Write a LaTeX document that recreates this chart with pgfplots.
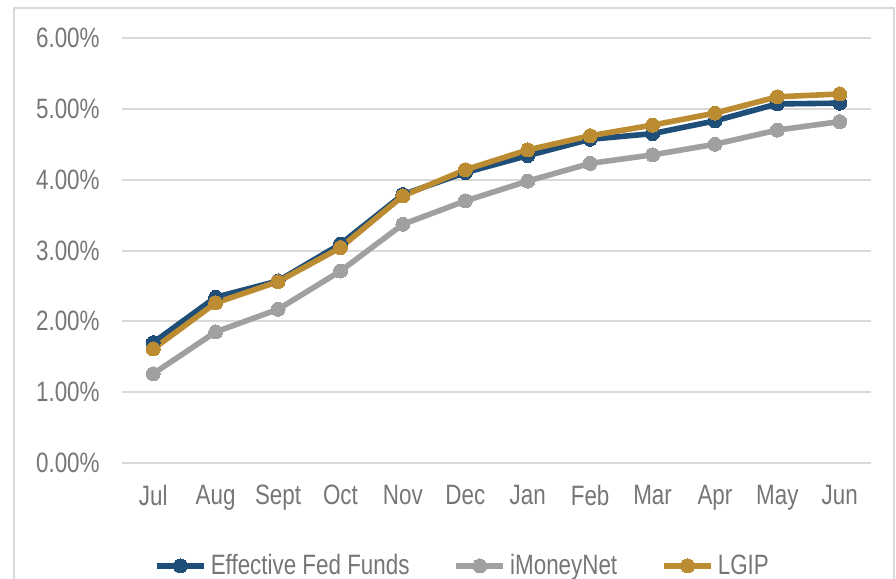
\documentclass[border=0pt]{standalone}
\usepackage{fontspec}
\setmainfont{Liberation Sans}[FakeStretch=0.80]
\usepackage{pgfplots}
\pgfplotsset{compat=1.18}
\usepackage{pgfplotstable}
\definecolor{effblue}{HTML}{1F4E79}
\definecolor{imgray}{HTML}{A0A0A3}
\definecolor{lgipgold}{HTML}{BC8C32}
\definecolor{gridgray}{HTML}{D9D9D9}
\definecolor{textgray}{HTML}{767676}
\pgfplotstableread{
x eff imn lgip
0 1.70 1.26 1.61
1 2.34 1.85 2.26
2 2.57 2.17 2.56
3 3.09 2.71 3.04
4 3.79 3.37 3.77
5 4.10 3.70 4.14
6 4.34 3.98 4.42
7 4.57 4.23 4.62
8 4.65 4.35 4.77
9 4.83 4.50 4.94
10 5.07 4.70 5.17
11 5.08 4.82 5.21
}\datatable
\begin{document}
\begin{tikzpicture}
\path[use as bounding box] (0,0) rectangle (448pt,-289.5pt);
\draw[gridgray, line width=0.8pt] (7pt,-300pt) -- (7pt,-4pt) -- (447pt,-4pt) -- (447pt,-300pt);
\begin{axis}[
  at={(61pt,-231.5pt)}, anchor=south west,
  scale only axis, width=374.5pt, height=212.5pt,
  xmin=-0.5, xmax=11.5, ymin=0, ymax=6,
  xtick={0,...,11},
  xticklabels={Jul,Aug,Sept,Oct,Nov,Dec,Jan,Feb,Mar,Apr,May,Jun},
  ytick={0,1,...,6},
  yticklabel={\pgfmathprintnumber[fixed,fixed zerofill,precision=2]{\tick}\%},
  /pgf/number format/assume math mode=true,
  axis line style={draw=none},
  major tick length=0pt,
  ymajorgrids,
  grid style={gridgray, line width=1pt},
  tick label style={font=\fontsize{14}{16.8}\selectfont, text=textgray},
  yticklabel style={anchor=east, inner sep=0pt, xshift=-11pt},
  xticklabel style={anchor=north, inner sep=0pt, yshift=-11pt},
  legend columns=3,
  legend style={at={(0.456,-0.242)}, anchor=center, draw=none, fill=none,
    font=\fontsize{14}{16.8}\selectfont, text=textgray,
    /tikz/every even column/.append style={column sep=20pt}},
  legend image code/.code={\draw[mark repeat=2,mark phase=2,#1] plot coordinates {(0pt,0pt) (11.75pt,0pt) (23.5pt,0pt)};},
  every axis plot/.append style={line width=2.8pt, mark=*, mark size=3.5pt},
]
\addplot[effblue, mark options={fill=effblue, draw=effblue, line width=0pt}] table[x=x,y=eff] {\datatable};
\addlegendentry{Effective Fed Funds}
\addplot[imgray, mark options={fill=imgray, draw=imgray, line width=0pt}] table[x=x,y=imn] {\datatable};
\addlegendentry{iMoneyNet}
\addplot[lgipgold, mark options={fill=lgipgold, draw=lgipgold, line width=0pt}] table[x=x,y=lgip] {\datatable};
\addlegendentry{LGIP}
\end{axis}
\end{tikzpicture}
\end{document}
